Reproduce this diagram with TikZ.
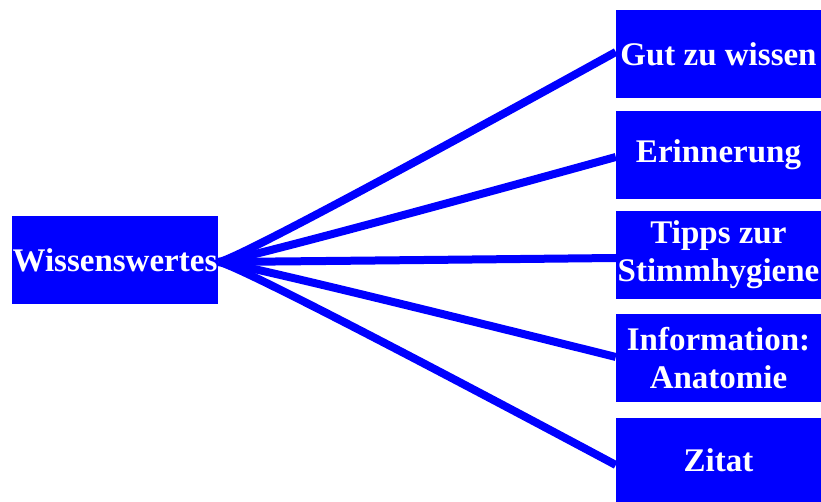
\documentclass[tikz,border=0pt]{standalone}
\usepackage{fontspec}
\setmainfont{Liberation Serif}
\definecolor{boxblue}{RGB}{0,0,255}
\begin{document}
\begin{tikzpicture}[x=1pt,y=-1pt,
  topic/.style={fill=boxblue, text=white, font=\bfseries\fontsize{33}{38}\selectfont,
    minimum width=205pt, minimum height=88pt, inner sep=1pt, align=center},
  link/.style={draw=boxblue, line width=8pt}]
\useasboundingbox (0,0) rectangle (821,502);
\node[topic, minimum width=206pt] (root) at (115,260) {Wissenswertes};
\node[topic] (t1) at (718.5,54) {Gut zu wissen};
\node[topic] (t2) at (718.5,155) {Erinnerung};
\node[topic] (t3) at (718.5,255) {Tipps zur\\Stimmhygiene};
\node[topic] (t4) at (718.5,358) {Information:\\Anatomie};
\node[topic, minimum height=84pt] (t5) at (718.5,460) {Zitat};
\coordinate (src) at ([yshift=-2pt]root.east);
\foreach \t/\dy in {t1/2pt,t2/-2pt,t3/-3pt,t4/1pt,t5/-5pt}
  \draw[link] (src) .. controls +(18,0) and ([yshift=\dy]\t.west) .. ([yshift=\dy]\t.west);
\end{tikzpicture}
\end{document}
